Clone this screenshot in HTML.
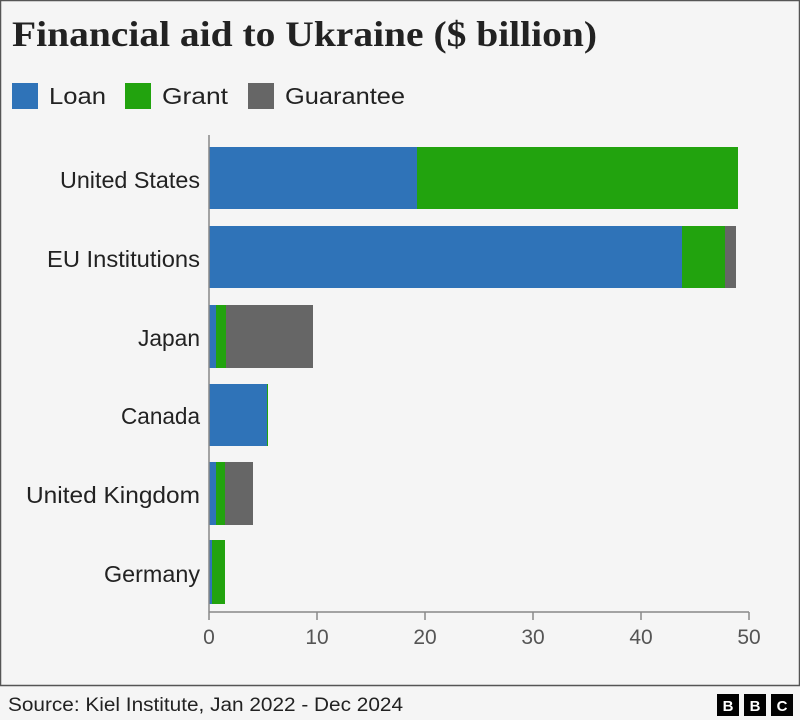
<!DOCTYPE html><html><head><style>
body{margin:0;background:#f5f5f5;}
svg{display:block;font-family:"Liberation Sans",sans-serif;}
</style></head><body>
<svg width="800" height="720" viewBox="0 0 800 720">
<rect x="0" y="0" width="800" height="720" fill="#f5f5f5"/>
<rect x="0.5" y="0.5" width="799" height="685" fill="#f5f5f5" stroke="#555" stroke-width="1.5"/>
<text x="12" y="46" font-family="Liberation Serif,serif" font-weight="bold" font-size="36" fill="#222" textLength="585" lengthAdjust="spacingAndGlyphs">Financial aid to Ukraine ($ billion)</text>
<rect x="12" y="83" width="26" height="26" fill="#2f73b8"/><text x="49" y="104" font-size="23" fill="#222" textLength="57" lengthAdjust="spacingAndGlyphs">Loan</text>
<rect x="125" y="83" width="26" height="26" fill="#22a30e"/><text x="162" y="104" font-size="23" fill="#222" textLength="66" lengthAdjust="spacingAndGlyphs">Grant</text>
<rect x="248" y="83" width="26" height="26" fill="#666"/><text x="285" y="104" font-size="23" fill="#222" textLength="120" lengthAdjust="spacingAndGlyphs">Guarantee</text>
<g font-size="23" fill="#222">
<text x="60" y="188" textLength="140" lengthAdjust="spacingAndGlyphs">United States</text>
<text x="47" y="267" textLength="153" lengthAdjust="spacingAndGlyphs">EU Institutions</text>
<text x="138" y="346" textLength="62" lengthAdjust="spacingAndGlyphs">Japan</text>
<text x="121" y="424" textLength="79" lengthAdjust="spacingAndGlyphs">Canada</text>
<text x="26" y="503" textLength="174" lengthAdjust="spacingAndGlyphs">United Kingdom</text>
<text x="104" y="582" textLength="96" lengthAdjust="spacingAndGlyphs">Germany</text>
</g>
<rect x="209" y="147" width="208" height="62" fill="#2f73b8"/><rect x="417" y="147" width="321" height="62" fill="#22a30e"/>
<rect x="209" y="226" width="473" height="62" fill="#2f73b8"/><rect x="682" y="226" width="43" height="62" fill="#22a30e"/><rect x="725" y="226" width="11" height="62" fill="#666"/>
<rect x="209" y="305" width="7" height="63" fill="#2f73b8"/><rect x="216" y="305" width="10" height="63" fill="#22a30e"/><rect x="226" y="305" width="87" height="63" fill="#666"/>
<rect x="209" y="384" width="58" height="62" fill="#2f73b8"/><rect x="267" y="384" width="1" height="62" fill="#22a30e"/>
<rect x="209" y="462" width="7" height="63" fill="#2f73b8"/><rect x="216" y="462" width="9" height="63" fill="#22a30e"/><rect x="225" y="462" width="28" height="63" fill="#666"/>
<rect x="209" y="540" width="3" height="64" fill="#2f73b8"/><rect x="212" y="540" width="13" height="64" fill="#22a30e"/>
<line x1="209" y1="135" x2="209" y2="620" stroke="#888" stroke-width="1.5"/>
<line x1="209" y1="612" x2="749" y2="612" stroke="#888" stroke-width="1.5"/>
<g stroke="#888" stroke-width="1.5">
<line x1="317" y1="612" x2="317" y2="620"/><line x1="425" y1="612" x2="425" y2="620"/><line x1="533" y1="612" x2="533" y2="620"/><line x1="641" y1="612" x2="641" y2="620"/><line x1="749" y1="612" x2="749" y2="620"/>
</g>
<g font-size="21" fill="#555" text-anchor="middle">
<text x="209" y="644">0</text><text x="317" y="644">10</text><text x="425" y="644">20</text><text x="533" y="644">30</text><text x="641" y="644">40</text><text x="749" y="644">50</text>
</g>
<text x="8" y="711" font-size="19" fill="#222" textLength="395" lengthAdjust="spacingAndGlyphs">Source: Kiel Institute, Jan 2022 - Dec 2024</text>
<g font-size="15" font-weight="bold" fill="#fff" text-anchor="middle">
<rect x="717" y="694" width="22" height="22" fill="#000"/><text x="728" y="711">B</text>
<rect x="744" y="694" width="22" height="22" fill="#000"/><text x="755" y="711">B</text>
<rect x="771" y="694" width="22" height="22" fill="#000"/><text x="782" y="711">C</text>
</g>
</svg></body></html>
